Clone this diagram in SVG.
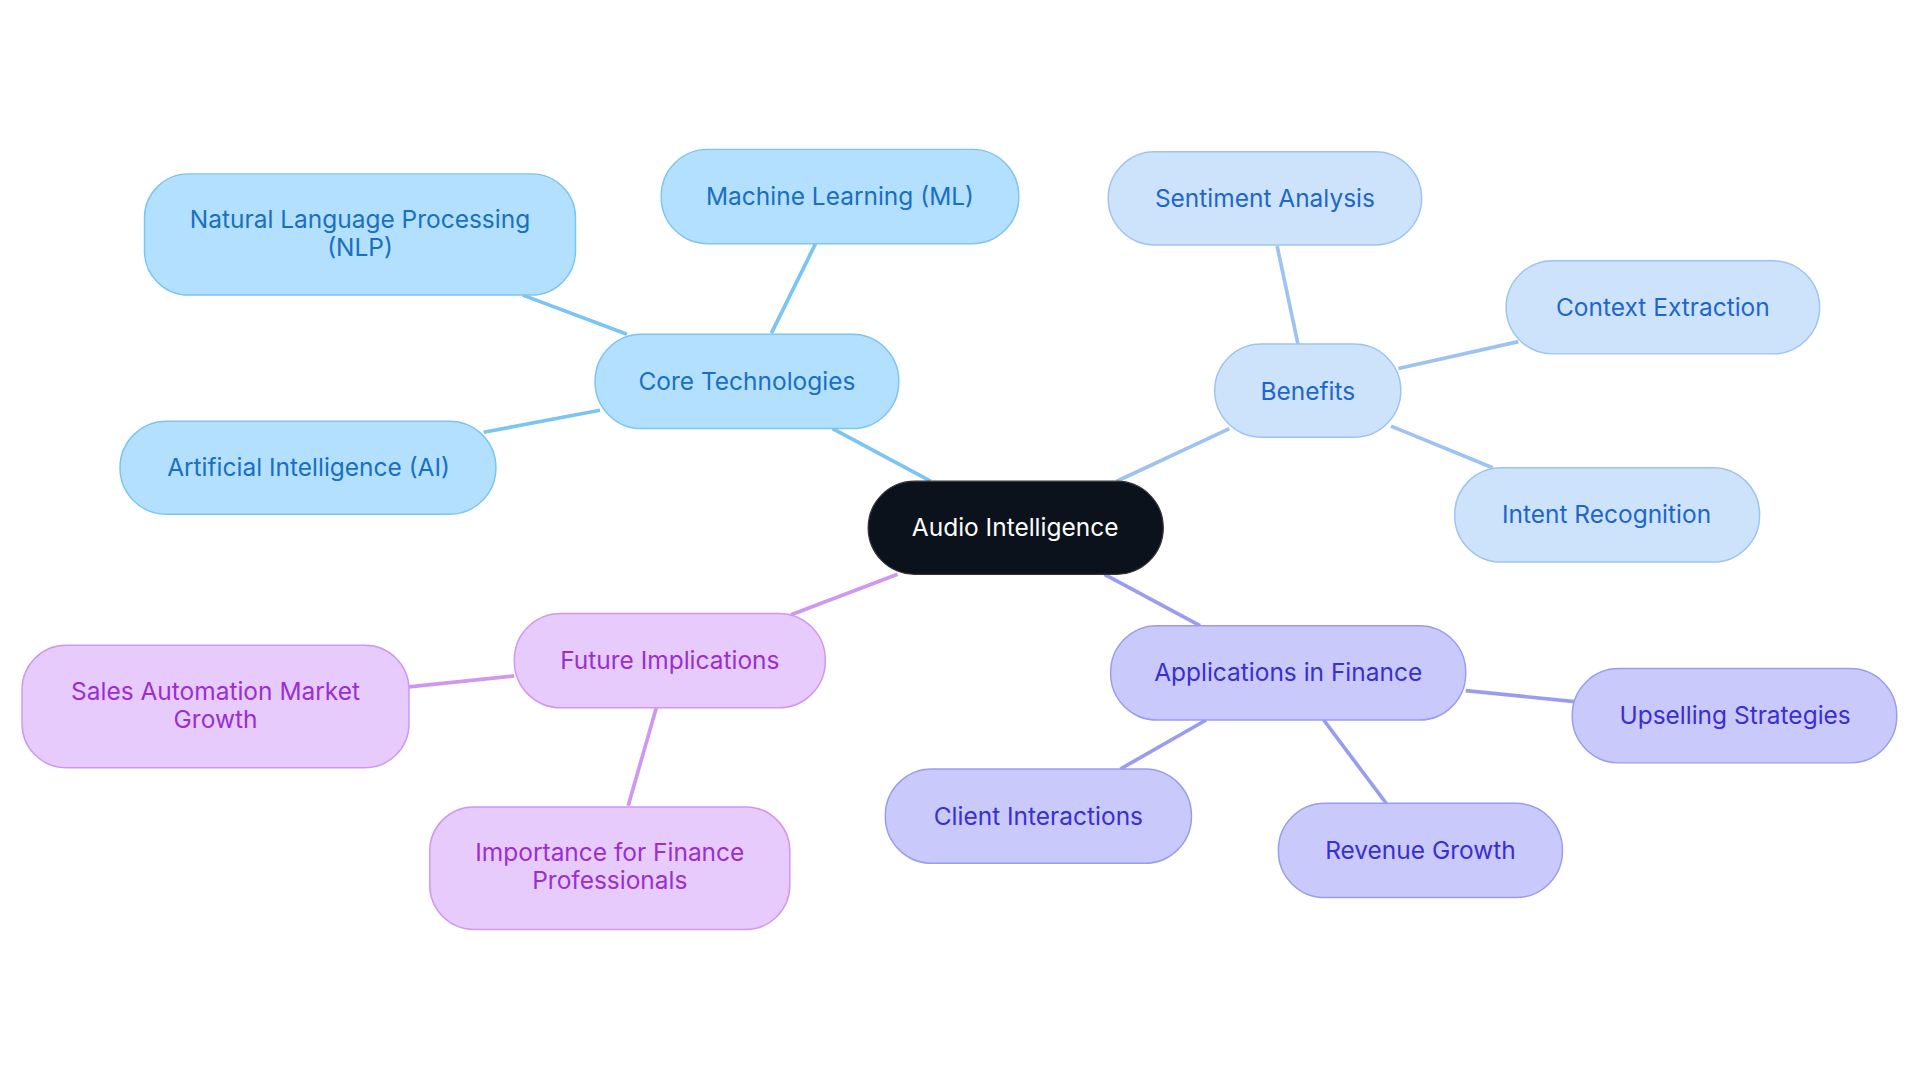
<svg xmlns="http://www.w3.org/2000/svg" width="1920" height="1083" viewBox="0 0 1920 1083">
<style>
text{font-family:Inter,"Noto Sans",sans-serif;font-size:20px;text-anchor:middle;dominant-baseline:central}
.c rect{fill:#b3e0ff;stroke:#7cc4f2;stroke-width:1.2}.c text{fill:#1a6fc0}
.b rect{fill:#cde3fb;stroke:#9ec3f0;stroke-width:1.2}.b text{fill:#1f66c9}
.a rect{fill:#c9c9fb;stroke:#9a9cef;stroke-width:1.2}.a text{fill:#3a2fd0}
.f rect{fill:#e6cbfc;stroke:#cf97f0;stroke-width:1.2}.f text{fill:#9a2fd0}
#edges line{stroke-width:3}
</style>
<rect width="1920" height="1083" fill="#fff"/>
<g transform="scale(1.2245)">
<g id="edges">
<line x1="760" y1="393" x2="680" y2="350" stroke="#7cc4f2"/>
<line x1="630" y1="272" x2="666" y2="199" stroke="#7cc4f2"/>
<line x1="512" y1="273" x2="427" y2="241" stroke="#7cc4f2"/>
<line x1="490" y1="335" x2="395" y2="353" stroke="#7cc4f2"/>
<line x1="912" y1="393" x2="1004" y2="350" stroke="#9ec3f0"/>
<line x1="1060" y1="281" x2="1043" y2="201" stroke="#9ec3f0"/>
<line x1="1142" y1="301" x2="1240" y2="279" stroke="#9ec3f0"/>
<line x1="1136" y1="348" x2="1219" y2="382" stroke="#9ec3f0"/>
<line x1="902" y1="469" x2="980" y2="511" stroke="#9a9cef"/>
<line x1="1197" y1="564" x2="1286" y2="573" stroke="#9a9cef"/>
<line x1="985" y1="588" x2="915" y2="628" stroke="#9a9cef"/>
<line x1="1081" y1="588" x2="1132" y2="656" stroke="#9a9cef"/>
<line x1="733" y1="469" x2="646" y2="502" stroke="#cf97f0"/>
<line x1="420" y1="552" x2="334" y2="561" stroke="#cf97f0"/>
<line x1="536" y1="578" x2="513" y2="658" stroke="#cf97f0"/>
</g>
<g id="center"><rect x="709" y="393" width="241" height="76" rx="38" fill="#0b121c" stroke="#333" stroke-width="1"/><text x="829" y="430" fill="#fff">Audio Intelligence</text></g>
<g id="core" class="c"><rect x="486" y="273" width="248" height="77" rx="38"/><text x="610" y="311">Core Technologies</text></g>
<g id="ml" class="c"><rect x="540" y="122" width="292" height="77" rx="38"/><text x="686" y="160">Machine Learning (ML)</text></g>
<g id="nlp" class="c"><rect x="118" y="142" width="352" height="99" rx="36"/><text x="294" y="179">Natural Language Processing</text><text x="294" y="202">(NLP)</text></g>
<g id="ai" class="c"><rect x="98" y="344" width="307" height="76" rx="38"/><text x="252" y="381">Artificial Intelligence (AI)</text></g>
<g id="benefits" class="b"><rect x="992" y="281" width="152" height="76" rx="38"/><text x="1068" y="319">Benefits</text></g>
<g id="sentiment" class="b"><rect x="905" y="124" width="256" height="76" rx="38"/><text x="1033" y="162">Sentiment Analysis</text></g>
<g id="context" class="b"><rect x="1230" y="213" width="256" height="76" rx="38"/><text x="1358" y="251">Context Extraction</text></g>
<g id="intent" class="b"><rect x="1188" y="382" width="249" height="77" rx="38"/><text x="1312" y="420">Intent Recognition</text></g>
<g id="apps" class="a"><rect x="907" y="511" width="290" height="77" rx="38"/><text x="1052" y="549">Applications in Finance</text></g>
<g id="upsell" class="a"><rect x="1284" y="546" width="265" height="77" rx="38"/><text x="1417" y="584">Upselling Strategies</text></g>
<g id="client" class="a"><rect x="723" y="628" width="250" height="77" rx="38"/><text x="848" y="666">Client Interactions</text></g>
<g id="revenue" class="a"><rect x="1044" y="656" width="232" height="77" rx="38"/><text x="1160" y="694">Revenue Growth</text></g>
<g id="future" class="f"><rect x="420" y="501" width="254" height="77" rx="38"/><text x="547" y="539">Future Implications</text></g>
<g id="sales" class="f"><rect x="18" y="527" width="316" height="100" rx="36"/><text x="176" y="564">Sales Automation Market</text><text x="176" y="587">Growth</text></g>
<g id="importance" class="f"><rect x="351" y="659" width="294" height="100" rx="36"/><text x="498" y="696">Importance for Finance</text><text x="498" y="719">Professionals</text></g>
</g>
</svg>
